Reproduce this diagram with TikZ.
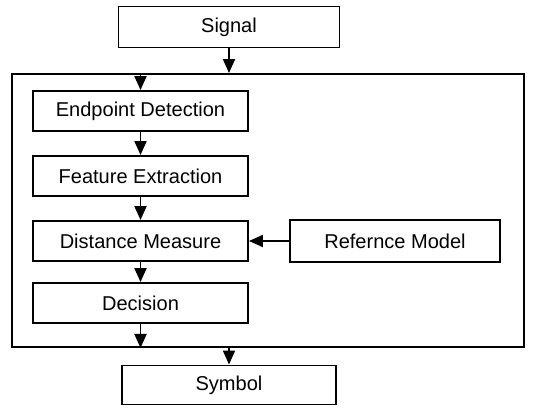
\documentclass[tikz,border=0pt]{standalone}
\usepackage{fontspec}
\setmainfont{Liberation Sans}
\usepackage{tikz}
\usetikzlibrary{arrows.meta, positioning}
\tikzset{%
	stagebox/.style={
		draw,
		line width=1.1pt,
		minimum width=4.3cm,
		minimum height=0.8cm,
		font=\fontsize{11.4pt}{13pt}\selectfont
	},
	flow/.style={
		line width=1.1pt,
		-{Triangle[length=0.28cm, width=0.24cm]}
	},
}

\begin{document}
\begin{tikzpicture}
	\useasboundingbox (0,0) rectangle (10.68,8.16);

	% Draw the outer frame
	\node[draw, line width=1.1pt, minimum width=10.24cm, minimum height=5.46cm] (system) at (5.36,3.95) {};

	% Draw the input and output boxes
	\node[stagebox, minimum width=4.42cm, minimum height=0.82cm] (signal) at (4.58,7.62) {Signal};
	\node[stagebox, minimum width=4.28cm, minimum height=0.78cm] (symbol) at (4.58,0.46) {Symbol};

	% Draw the stages inside the frame
	\node[stagebox] (endpoint) at (2.81,5.94) {Endpoint Detection};
	\node[stagebox] (feature) at (2.81,4.64) {Feature Extraction};
	\node[stagebox] (distance) at (2.81,3.34) {Distance Measure};
	\node[stagebox] (decision) at (2.81,2.10) {Decision};
	\node[stagebox, minimum width=4.2cm, minimum height=0.84cm] (model) at (7.9,3.34) {Refernce Model};

	% Draw the arrows
	\draw[flow] (signal) -- (signal |- system.north);
	\draw[flow] (endpoint |- system.north) -- (endpoint);
	\draw[flow] (endpoint) -- (feature);
	\draw[flow] (feature) -- (distance);
	\draw[flow] (distance) -- (decision);
	\draw[flow] (model) -- (distance);
	\draw[flow] (decision) -- (decision |- system.south);
	\draw[flow] (symbol |- system.south) -- (symbol);
\end{tikzpicture}
\end{document}
